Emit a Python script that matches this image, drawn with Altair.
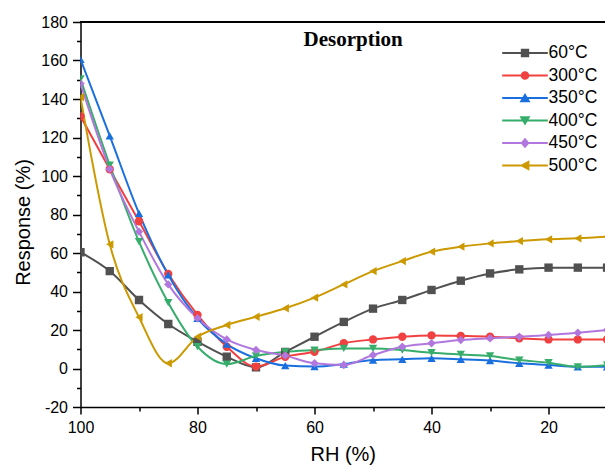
import altair as alt
import pandas as pd

# Relative humidity steps (desorption runs from wet to dry)
rh = [100, 95, 90, 85, 80, 75, 70, 65, 60, 55, 50, 45, 40, 35, 30, 25, 20, 15, 10]

temps = ["60°C", "300°C", "350°C", "400°C", "450°C", "500°C"]

resp_60 = [60.4, 50.6, 35.6, 23.1, 13.9, 6.1, 0.6, 8.6, 16.5, 24.2, 31.1, 35.6, 40.8, 45.6, 49.4, 51.5, 52.4, 52.4, 52.4]
resp_300 = [131.0, 103.5, 76.5, 49.1, 27.8, 11.3, 1.0, 6.1, 8.7, 13.1, 15.1, 16.5, 17.2, 16.9, 16.5, 15.7, 15.1, 15.1, 15.1]
resp_350 = [160.6, 120.8, 80.6, 48.6, 26.1, 12.7, 5.3, 1.5, 1.0, 2.3, 4.4, 4.8, 5.3, 4.8, 4.1, 2.7, 1.8, 0.9, 0.9]
resp_400 = [150.5, 105.7, 65.9, 34.2, 11.3, 2.3, 6.5, 8.7, 9.6, 10.4, 10.4, 9.6, 8.2, 7.3, 6.5, 4.4, 3.0, 0.9, 1.8]
resp_450 = [148.0, 103.6, 71.1, 43.7, 26.1, 15.1, 9.6, 6.7, 2.7, 1.8, 7.0, 11.3, 13.1, 14.8, 15.7, 16.5, 17.4, 18.6, 20.0]
resp_500 = [141.0, 64.5, 26.6, 2.7, 16.5, 22.6, 26.9, 31.3, 36.8, 43.7, 50.6, 55.8, 60.7, 63.3, 65.0, 66.2, 67.1, 67.6, 68.5]

series = [resp_60, resp_300, resp_350, resp_400, resp_450, resp_500]

colors = ["#515151", "#F14040", "#1A6FDF", "#37AD6B", "#B177DE", "#CC9900"]
shapes = ["square", "circle", "triangle-up", "triangle-down", "diamond", "triangle-left"]

# Legend glyphs: a short line segment with the marker on top (unit box -1..1)
seg = "M-2.4,-0.105H2.4V0.105H-2.4Z"
legend_glyphs = [
    seg + "M-0.44,-0.44H0.44V0.44H-0.44Z",
    seg + "M-0.46,0A0.46,0.46 0 1,1 0.46,0A0.46,0.46 0 1,1 -0.46,0Z",
    seg + "M0,-0.52L0.58,0.46L-0.58,0.46Z",
    seg + "M0,0.52L-0.58,-0.46L0.58,-0.46Z",
    seg + "M0,-0.56L0.48,0L0,0.56L-0.48,0Z",
    seg + "M-0.56,0L0.46,-0.56L0.46,0.56Z",
]

rows = []
for t, vals in zip(temps, series):
    for x, v in zip(rh, vals):
        rows.append({"rh": x, "resp": v, "temp": t})
df = pd.DataFrame(rows)

FONT = "Liberation Sans"
X_DOMAIN = [100, 10.35]
Y_DOMAIN = [-20, 180]

major_label = "datum.value % 20 === 0 ? toString(datum.value) : ''"

x_axis = alt.Axis(
    values=list(range(100, 19, -10)),
    labelExpr=major_label,
    labelOverlap=False,
    labelFlush=False,
    tickSize={"condition": {"test": "datum.value % 20 === 0", "value": 7}, "value": 4},
    labelPadding=5,
    titlePadding=9,
)
y_axis = alt.Axis(
    values=list(range(-20, 181, 10)),
    labelExpr=major_label,
    labelOverlap=False,
    labelFlush=False,
    tickSize={"condition": {"test": "datum.value % 20 === 0", "value": 8}, "value": 4},
    labelPadding=5,
    titlePadding=7,
    titleY=200,
)

x_enc = alt.X("rh:Q", title="RH (%)",
              scale=alt.Scale(domain=X_DOMAIN, nice=False, zero=False),
              axis=x_axis)
y_enc = alt.Y("resp:Q", title="Response (%)",
              scale=alt.Scale(domain=Y_DOMAIN, nice=False, zero=False),
              axis=y_axis)

color_scale = alt.Scale(domain=temps, range=colors)

base = alt.Chart(df)

lines = base.mark_line(interpolate="monotone", strokeWidth=2, clip=True).encode(
    x=x_enc, y=y_enc,
    color=alt.Color("temp:N", scale=color_scale, legend=None),
    detail="temp:N",
)

points = base.mark_point(filled=True, size=70, opacity=1, clip=True).encode(
    x=x_enc, y=y_enc,
    color=alt.Color("temp:N", scale=color_scale, legend=None),
    shape=alt.Shape("temp:N", scale=alt.Scale(domain=temps, range=shapes), legend=None),
)

# Top edge of the plot frame
frame_top = base.mark_rule(color="black", strokeWidth=1.5).encode(
    y=alt.value(0),
)

legend_def = dict(title=None, orient="none", legendX=435, legendY=21.5,
                  symbolSize=361, symbolStrokeWidth=0, rowPadding=4.5,
                  labelFont=FONT, labelFontSize=17.5, labelColor="black",
                  labelOffset=14, padding=0)

# Empty layer that only carries the legend
legend_layer = base.mark_point(filled=True, opacity=1).transform_filter("false").encode(
    color=alt.Color("temp:N", scale=color_scale, legend=alt.Legend(**legend_def)),
    shape=alt.Shape("temp:N", scale=alt.Scale(domain=temps, range=legend_glyphs),
                    legend=alt.Legend(**legend_def)),
)

chart = alt.layer(lines, points, frame_top, legend_layer).resolve_scale(
    color="independent", shape="independent"
).properties(
    width=524.5,
    height=385,
    autosize=alt.AutoSizeParams(type="none"),
    padding={"left": 80.5, "top": 22, "right": 0, "bottom": 59},
    title=alt.TitleParams("Desorption", font="Liberation Serif", fontSize=21,
                          fontWeight="bold", color="black", anchor="start",
                          frame="group", dx=223, dy=40),
).configure_view(stroke=None).configure_axis(
    grid=False,
    domainColor="black", domainWidth=1.5,
    tickColor="black", tickWidth=1.5,
    labelFont=FONT, labelFontSize=16, labelColor="black",
    titleFont=FONT, titleFontSize=20, titleFontWeight="normal", titleColor="black",
)

chart.save("out.html", embed_options={"renderer": "svg", "actions": False})
